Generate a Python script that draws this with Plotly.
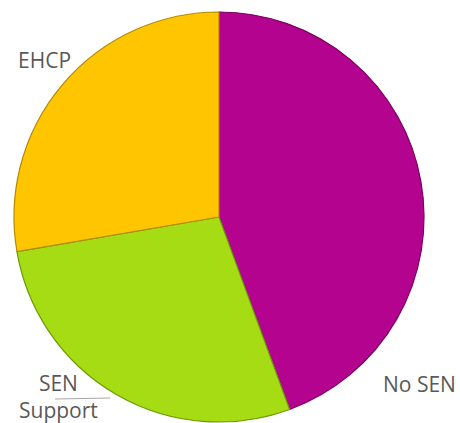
import plotly.graph_objects as go

labels = ["No SEN", "SEN Support", "EHCP"]
values = [44.4, 27.9, 27.7]
colors = ["#B4048F", "#A6DC14", "#FFC600"]
edge_colors = ["#7A005F", "#6E9A08", "#B58A00"]

W, H = 460, 423
cx, cy, r = 219, 217, 205

fig = go.Figure(go.Pie(
    labels=labels,
    values=values,
    sort=False,
    direction="clockwise",
    rotation=0,
    textinfo="none",
    hoverinfo="label+percent",
    marker=dict(colors=colors, line=dict(color=edge_colors, width=1.2)),
    domain=dict(x=[(cx - r) / W, (cx + r) / W],
                y=[(H - cy - r) / H, (H - cy + r) / H]),
    showlegend=False,
))

font = dict(family="Open Sans", size=21, color="#595959")

def px(x, y):
    return x / W, 1 - y / H

ann = [
    ("EHCP", 44, 60),
    ("SEN<br>Support", 58, 396),
    ("No SEN", 419, 384),
]
for t, x, y in ann:
    ax, ay = px(x, y)
    fig.add_annotation(x=ax, y=ay, xref="paper", yref="paper", text=t,
                       showarrow=False, font=font, xanchor="center",
                       yanchor="middle", align="center")

x0, y0 = px(55, 399)
x1, y1 = px(110, 398)
fig.add_shape(type="line", xref="paper", yref="paper", x0=x0, y0=y0, x1=x1, y1=y1,
              line=dict(color="#A6A6A6", width=1))

fig.update_layout(width=W, height=H, margin=dict(l=0, r=0, t=0, b=0),
                  paper_bgcolor="white", plot_bgcolor="white")

fig.write_html("out.html", config={"responsive": False, "displayModeBar": False},
               post_script="document.body.style.margin='0';document.body.style.overflow='hidden';")
